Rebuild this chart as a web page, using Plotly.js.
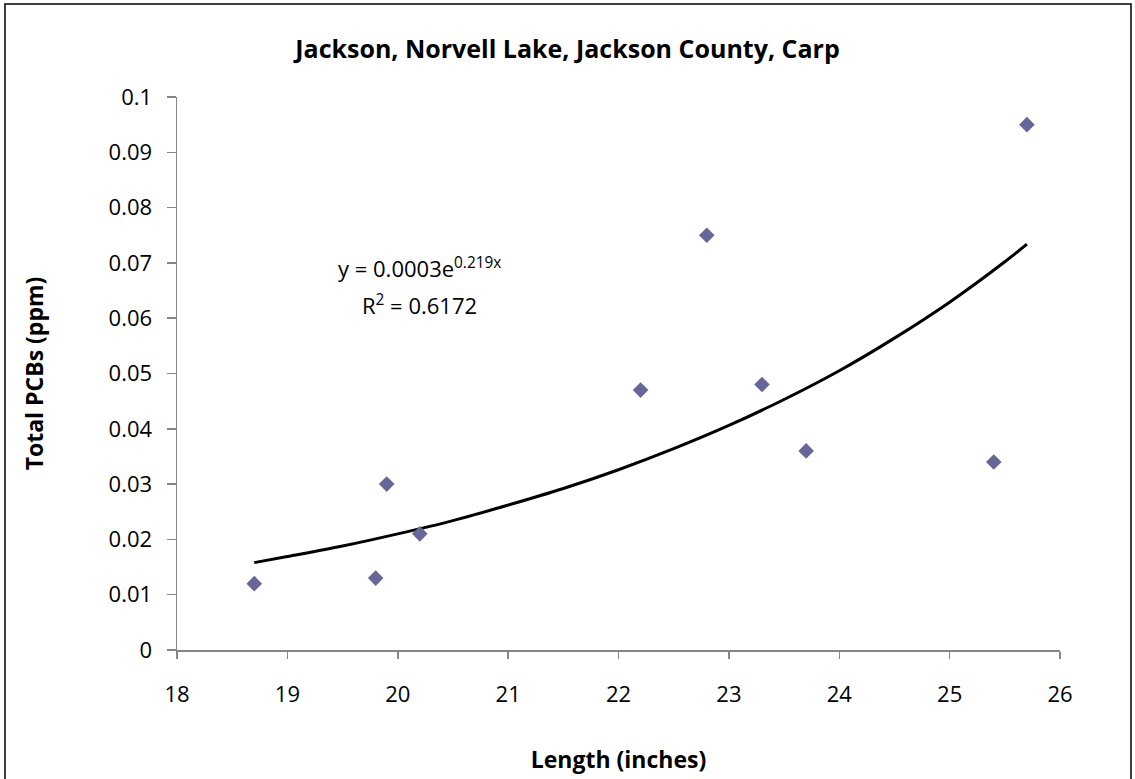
<!DOCTYPE html>
<html><head><meta charset="utf-8">
<script src="https://cdn.plot.ly/plotly-3.0.1.min.js"></script>
<style>html,body{margin:0;padding:0;background:#fff}#chart{width:1135px;height:779px}</style>
</head><body><div id="chart"></div>
<script>
// Observed samples
var lengthIn = [18.7, 19.8, 19.9, 20.2, 22.2, 22.8, 23.3, 23.7, 25.4, 25.7];
var totalPCBs = [0.012, 0.013, 0.030, 0.021, 0.047, 0.075, 0.048, 0.036, 0.034, 0.095];
// Exponential trendline
var trendX = [18.7, 19.0, 19.5, 20.0, 20.5, 21.0, 21.5, 22.0, 22.5, 23.0, 23.5, 24.0, 24.5, 25.0, 25.5, 25.7];
var trendY = [0.0158, 0.0169, 0.0188, 0.0210, 0.0234, 0.0262, 0.0292, 0.0326, 0.0364, 0.0406, 0.0453, 0.0505, 0.0564, 0.0629, 0.0702, 0.0734];
var xTicks = [18, 19, 20, 21, 22, 23, 24, 25, 26];
var yTicks = [0, 0.01, 0.02, 0.03, 0.04, 0.05, 0.06, 0.07, 0.08, 0.09, 0.1];
var yTickText = ['0', '0.01', '0.02', '0.03', '0.04', '0.05', '0.06', '0.07', '0.08', '0.09', '0.1'];

var FONT = '"Open Sans", Carlito, Calibri, sans-serif';

var traces = [
  {x: trendX, y: trendY, mode: 'lines', type: 'scatter', line: {color: '#000', width: 3, shape: 'spline'}, hoverinfo: 'skip'},
  {x: lengthIn, y: totalPCBs, mode: 'markers', type: 'scatter', marker: {symbol: 'diamond', size: 12, color: '#666699'}}
];

var layout = {
  width: 1135, height: 779,
  margin: {l: 177, r: 75, t: 97, b: 129},
  paper_bgcolor: '#fff', plot_bgcolor: '#fff',
  showlegend: false,
  font: {family: FONT, size: 22, color: '#000'},
  title: {text: '<b>Jackson, Norvell Lake, Jackson County, Carp</b>', font: {family: FONT, size: 25, color: '#000'}, x: 0.5, xanchor: 'center', y: 0.937, yanchor: 'middle'},
  xaxis: {
    range: [18, 26], tickvals: xTicks, ticktext: xTicks.map(String),
    showgrid: false, zeroline: false, showline: true, linecolor: '#868686', linewidth: 1.5,
    ticks: 'outside', ticklen: 7, tickcolor: '#868686', tickwidth: 1.5,
    ticklabelstandoff: 17,
    tickfont: {family: FONT, size: 22, color: '#000'},
    title: {text: '<b>Length (inches)</b>', font: {family: FONT, size: 23, color: '#000'}, standoff: 45}
  },
  yaxis: {
    range: [0, 0.1], tickvals: yTicks, ticktext: yTickText,
    showgrid: false, zeroline: false, showline: true, linecolor: '#868686', linewidth: 1.5,
    ticks: 'outside', ticklen: 9, tickcolor: '#868686', tickwidth: 1.5,
    ticklabelstandoff: 10,
    tickfont: {family: FONT, size: 22, color: '#000'},
    title: {text: '<b>Total PCBs (ppm)</b>', font: {family: FONT, size: 23, color: '#000'}, standoff: 58}
  },
  annotations: [
    {xref: 'x', yref: 'y', x: 20.2, y: 0.0692, text: 'y = 0.0003e<sup>0.219x</sup>', showarrow: false, xanchor: 'center', yanchor: 'middle', font: {family: FONT, size: 22, color: '#000'}},
    {xref: 'x', yref: 'y', x: 20.2, y: 0.0625, text: 'R<sup>2</sup> = 0.6172', showarrow: false, xanchor: 'center', yanchor: 'middle', font: {family: FONT, size: 22, color: '#000'}}
  ],
  shapes: [
    {type: 'rect', xref: 'paper', yref: 'paper', x0: -0.1948, x1: 1.0804, y0: -0.26, y1: 1.1682, line: {color: '#000', width: 1.5}, fillcolor: 'rgba(0,0,0,0)', layer: 'below'}
  ]
};

Plotly.newPlot('chart', traces, layout, {displayModeBar: false, staticPlot: true});
</script></body></html>
